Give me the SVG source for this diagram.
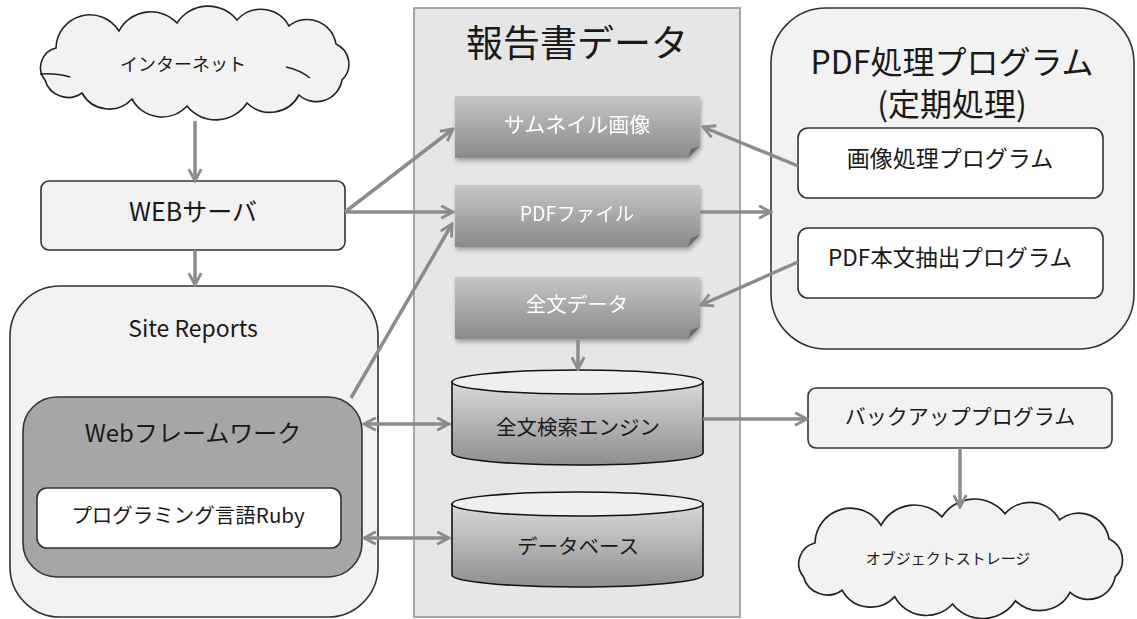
<svg xmlns="http://www.w3.org/2000/svg" width="1137" height="619" viewBox="0 0 1137 619">
<style>
text{font-family:"Noto Sans CJK JP","Noto Sans",sans-serif;fill:#1a1a1a;text-anchor:middle;dominant-baseline:central}
.wt{fill:#ffffff}
.box{fill:#f2f2f2;stroke:#333;stroke-width:1.6}
.cl{fill:#f2f2f2;stroke:#222;stroke-width:1.6}
.conn line,.conn path{stroke:#8c8c8c;stroke-width:3.5;fill:none}
</style>
<defs>
<marker id="ah" viewBox="0 0 12 12" refX="10.5" refY="6" markerWidth="15" markerHeight="15" markerUnits="userSpaceOnUse" orient="auto-start-reverse">
<path d="M1,1 L10.5,6 L1,11" fill="none" stroke="#8c8c8c" stroke-width="2.3"/>
</marker>
<linearGradient id="docg" x1="0" y1="0" x2="0" y2="1">
<stop offset="0" stop-color="#c6c6c6"/><stop offset="1" stop-color="#8a8a8a"/>
</linearGradient>
<linearGradient id="cylg" x1="0" y1="0" x2="0" y2="1">
<stop offset="0" stop-color="#d9d9d9"/><stop offset="1" stop-color="#8e8e8e"/>
</linearGradient>
<filter id="sh" x="-10%" y="-10%" width="125%" height="135%">
<feDropShadow dx="1" dy="3" stdDeviation="2" flood-color="#000" flood-opacity="0.3"/>
</filter>
<path id="cloud" d="M45,80 A20,20 0 0 1 56,48 A34,34 0 0 1 119,31 A36,36 0 0 1 177,23 A37,37 0 0 1 237,20 A32,32 0 0 1 289,26 A29,29 0 0 1 336,44 A22,22 0 0 1 342,80 A26,26 0 0 1 299,95 A33,33 0 0 1 247,103 A37,37 0 0 1 187,106 A34,34 0 0 1 132,99 A31,31 0 0 1 82,93 A24,24 0 0 1 45,80 Z"/>
</defs>

<g id="report-data">
<rect x="414" y="8" width="326" height="609" fill="#e6e6e6" stroke="#a6a6a6" stroke-width="2"/>
<text x="577" y="41" font-size="37">報告書データ</text>
</g>

<g id="internet">
<use href="#cloud" class="cl"/>
<path d="M40,74 Q56,73 70,77 M286,67 Q300,70 310,78" fill="none" stroke="#222" stroke-width="1.4"/>
<text x="183" y="63" font-size="18">インターネット</text>
</g>

<g id="web-server">
<rect class="box" x="41" y="181" width="304" height="69" rx="8"/>
<text x="193" y="210" font-size="25">WEBサーバ</text>
</g>

<g id="site-reports">
<rect class="box" x="10" y="286" width="368" height="331" rx="50"/>
<text x="193" y="327" font-size="23">Site Reports</text>
</g>

<g id="web-framework">
<rect x="23" y="397" width="339" height="180" rx="34" fill="#a6a6a6" stroke="#333" stroke-width="1.6"/>
<text x="193" y="431" font-size="24">Webフレームワーク</text>
</g>

<g id="ruby">
<rect x="37" y="488" width="304" height="60" rx="10" fill="#ffffff" stroke="#333" stroke-width="1.6"/>
<text x="188" y="514" font-size="20.5">プログラミング言語Ruby</text>
</g>

<g id="thumbnail" filter="url(#sh)">
<path d="M455,96 H700 V146 L688,158 H455 Z" fill="url(#docg)"/>
<path d="M688,158 L691,149 L700,146 Z" fill="#6a6a6a"/>
<text class="wt" x="577" y="123" font-size="21">サムネイル画像</text>
</g>

<g id="pdf-file" filter="url(#sh)">
<path d="M455,185 H700 V235 L688,247 H455 Z" fill="url(#docg)"/>
<path d="M688,247 L691,238 L700,235 Z" fill="#6a6a6a"/>
<text class="wt" x="577" y="212" font-size="19.5">PDFファイル</text>
</g>

<g id="fulltext-data" filter="url(#sh)">
<path d="M455,277 H700 V327 L688,339 H455 Z" fill="url(#docg)"/>
<path d="M688,339 L691,330 L700,327 Z" fill="#6a6a6a"/>
<text class="wt" x="577" y="303" font-size="20.5">全文データ</text>
</g>

<g id="search-engine">
<path d="M452,382 V453 A125.5,12 0 0 0 703,453 V382 Z" fill="url(#cylg)" stroke="#111" stroke-width="1.6"/>
<ellipse cx="577.5" cy="382" rx="125.5" ry="12" fill="#efefef" stroke="#111" stroke-width="1.6"/>
<text x="578" y="426" font-size="20.5">全文検索エンジン</text>
</g>

<g id="database">
<path d="M452,504 V575 A125.5,12 0 0 0 703,575 V504 Z" fill="url(#cylg)" stroke="#111" stroke-width="1.6"/>
<ellipse cx="577.5" cy="504" rx="125.5" ry="12" fill="#efefef" stroke="#111" stroke-width="1.6"/>
<text x="578" y="545" font-size="20.5">データベース</text>
</g>

<g id="pdf-processing">
<rect class="box" x="771" y="8" width="363" height="341" rx="55"/>
<text x="952" y="60" font-size="32">PDF処理プログラム</text>
<text x="952" y="102" font-size="32">(定期処理)</text>
</g>

<g id="image-program">
<rect x="798" y="128" width="305" height="70" rx="10" fill="#ffffff" stroke="#333" stroke-width="1.6"/>
<text x="950" y="157" font-size="23">画像処理プログラム</text>
</g>

<g id="text-extract">
<rect x="798" y="228" width="305" height="70" rx="10" fill="#ffffff" stroke="#333" stroke-width="1.6"/>
<text x="950" y="256" font-size="22.5">PDF本文抽出プログラム</text>
</g>

<g id="backup">
<rect class="box" x="808" y="388" width="304" height="60" rx="8"/>
<text x="960" y="415" font-size="21">バックアッププログラム</text>
</g>

<g id="object-storage">
<use href="#cloud" class="cl" transform="translate(795,500) scale(1.05,1.05) translate(-37,-7)"/>
<text x="948" y="557" font-size="15" fill="#333">オブジェクトストレージ</text>
</g>

<g class="conn">
<line x1="195" y1="121" x2="195" y2="181" marker-end="url(#ah)"/>
<line x1="195" y1="250" x2="195" y2="285" marker-end="url(#ah)"/>
<line x1="345" y1="212" x2="453" y2="129" marker-end="url(#ah)"/>
<line x1="345" y1="212" x2="453" y2="212" marker-end="url(#ah)"/>
<line x1="351" y1="398" x2="452" y2="224" marker-end="url(#ah)"/>
<line x1="798" y1="166" x2="703" y2="127" marker-end="url(#ah)"/>
<line x1="700" y1="212" x2="771" y2="212" marker-end="url(#ah)"/>
<line x1="798" y1="262" x2="701" y2="305" marker-end="url(#ah)"/>
<line x1="578" y1="340" x2="578" y2="369" marker-end="url(#ah)"/>
<line x1="703" y1="419" x2="807" y2="419" marker-end="url(#ah)"/>
<line x1="960" y1="448" x2="960" y2="507" marker-end="url(#ah)"/>
<line x1="364" y1="424" x2="449" y2="424" marker-start="url(#ah)" marker-end="url(#ah)"/>
<line x1="364" y1="538" x2="449" y2="538" marker-start="url(#ah)" marker-end="url(#ah)"/>
</g>
</svg>
